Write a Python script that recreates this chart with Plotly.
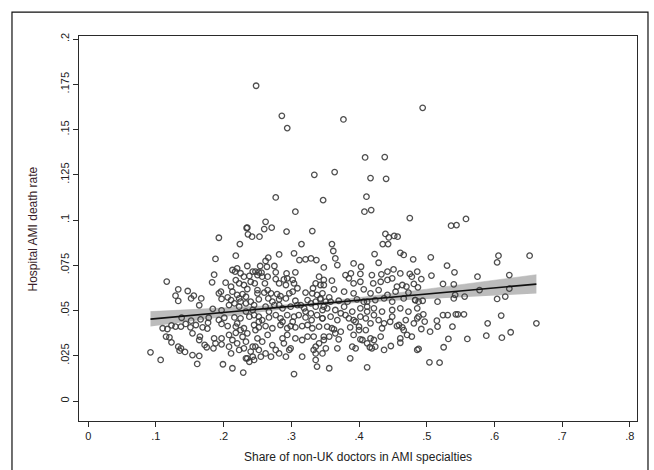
import plotly.graph_objects as go

# ---- data (share of non-UK doctors, AMI death rate) ----
share_a = [0.248,0.494,0.286,0.294,0.377,0.409,0.438,0.334,0.364,0.417,0.440,0.277,0.347,0.411,0.306,0.408,0.418,0.475,0.558,0.536,0.544,0.234,0.235,0.262,0.260,0.271,0.293,0.331,0.236,0.242,0.253,0.193,0.439,0.444,0.452,0.457,0.224,0.315,0.360,0.435,0.443]
death_a = [0.1742,0.1620,0.1576,0.1508,0.1556,0.1346,0.1348,0.1250,0.1265,0.1232,0.1228,0.1125,0.1110,0.1129,0.1046,0.1046,0.1055,0.1011,0.1006,0.0969,0.0972,0.0956,0.0958,0.0990,0.0950,0.0958,0.0936,0.0939,0.0921,0.0908,0.0908,0.0902,0.0923,0.0904,0.0912,0.0908,0.0867,0.0867,0.0867,0.0867,0.0867]

share_b = [0.218,0.282,0.304,0.266,0.262,0.312,0.321,0.329,0.337,0.235,
           0.254,0.275,0.264,0.217,0.243,0.247,0.252,0.256,0.277,0.306,
           0.293,0.230,0.238,0.250,0.257,0.265,0.277,0.289,0.294,0.302,
           0.341,0.348,0.203,0.240,0.246,0.261,0.282,0.292,0.304,0.309,
           0.336,0.343,0.332,0.230,0.235,0.250,0.213,0.228,0.250,0.260,
           0.265,0.270,0.279,0.284,0.297,0.302,0.321,0.331,0.338,0.346,
           0.206,0.211,0.223,0.233,0.240,0.252,0.266,0.282,0.292,0.306,
           0.324,0.329,0.336,0.343,0.351,0.208,0.223,0.233,0.245,0.262,
           0.275,0.287,0.299,0.309,0.319,0.336,0.346,0.216,0.225,0.245,
           0.252,0.267,0.277,0.284,0.294,0.304,0.311,0.321,0.330,0.338,
           0.346,0.206,0.220,0.230,0.245,0.252,0.262,0.272,0.284,0.299,
           0.306,0.316,0.324,0.331,0.341,0.208,0.218,0.228,0.235,0.250,
           0.265,0.287,0.294,0.306,0.333,0.341,0.348,0.208,0.220,0.230,
           0.243,0.252,0.272,0.299,0.336,0.333,0.211,0.235,0.243,0.245,
           0.255,0.270,0.282,0.292,0.316,0.336,0.346,0.213,0.338]
death_b = [0.0803,0.0810,0.0816,0.0792,0.0774,0.0779,0.0783,0.0788,0.0779,0.0746,
           0.0746,0.0746,0.0742,0.0715,0.0715,0.0715,0.0711,0.0709,0.0711,0.0711,
           0.0705,0.0687,0.0691,0.0696,0.0687,0.0687,0.0674,0.0672,0.0678,0.0669,
           0.0687,0.0669,0.0654,0.0659,0.0650,0.0650,0.0650,0.0641,0.0650,0.0623,
           0.0650,0.0641,0.0623,0.0641,0.0619,0.0613,0.0604,0.0591,0.0595,0.0599,
           0.0613,0.0595,0.0591,0.0580,0.0595,0.0604,0.0599,0.0595,0.0586,0.0595,
           0.0573,0.0558,0.0567,0.0576,0.0549,0.0562,0.0567,0.0562,0.0567,0.0554,
           0.0558,0.0540,0.0549,0.0567,0.0549,0.0530,0.0521,0.0540,0.0530,0.0521,
           0.0530,0.0512,0.0521,0.0530,0.0512,0.0521,0.0503,0.0462,0.0457,0.0475,
           0.0466,0.0462,0.0475,0.0457,0.0475,0.0466,0.0475,0.0462,0.0447,0.0475,
           0.0457,0.0414,0.0429,0.0402,0.0420,0.0407,0.0414,0.0402,0.0420,0.0414,
           0.0407,0.0414,0.0420,0.0402,0.0411,0.0365,0.0377,0.0355,0.0374,0.0346,
           0.0365,0.0346,0.0365,0.0346,0.0356,0.0319,0.0337,0.0300,0.0319,0.0291,
           0.0300,0.0282,0.0309,0.0291,0.0300,0.0282,0.0263,0.0236,0.0245,0.0227,
           0.0245,0.0245,0.0263,0.0245,0.0245,0.0263,0.0263,0.0181,0.0190]

share_b2 = [0.213,0.220,0.225,0.218,0.223,0.211,0.220,0.225,0.216,0.233,0.238,0.243,
            0.252,0.257,0.247,0.218,0.225,0.213,0.223,0.233,0.240,0.247,0.257,
            0.272,0.282,0.267,0.287,0.302,0.294,0.321,0.329,0.314,0.324,0.316,0.289,
            0.297,0.277,0.262,0.233,0.238,0.336]
death_b2 = [0.0724,0.0733,0.0706,0.0668,0.0650,0.0632,0.0586,0.0549,0.0540,0.0494,0.0466,0.0503,
            0.0438,0.0447,0.0392,0.0411,0.0392,0.0337,0.0282,0.0328,0.0273,0.0300,0.0328,
            0.0549,0.0530,0.0494,0.0438,0.0438,0.0402,0.0494,0.0484,0.0530,0.0356,0.0337,0.0319,
            0.0282,0.0282,0.0263,0.0236,0.0217,0.0227]

share_c = [0.362,0.423,0.461,0.466,0.480,0.365,0.348,0.368,0.392,0.403,
           0.429,0.451,0.442,0.461,0.475,0.478,0.486,0.380,0.388,0.402,
           0.419,0.433,0.360,0.385,0.392,0.421,0.432,0.449,0.464,0.470,
           0.481,0.348,0.363,0.378,0.392,0.407,0.417,0.429,0.442,0.454,
           0.473,0.343,0.356,0.370,0.383,0.397,0.412,0.424,0.437,0.449,
           0.466,0.483,0.353,0.365,0.378,0.390,0.402,0.412,0.422,0.434,
           0.449,0.461,0.473,0.486,0.346,0.358,0.368,0.385,0.395,0.410,
           0.417,0.429,0.446,0.459,0.469,0.481,0.488,0.353,0.363,0.373,
           0.387,0.400,0.410,0.434,0.456,0.464,0.348,0.370,0.392,0.402,
           0.417,0.422,0.432,0.461,0.478,0.351,0.368,0.390,0.395,0.405,
           0.416,0.424,0.437,0.447,0.461,0.486,0.387,0.356,0.412]
death_c = [0.0829,0.0812,0.0819,0.0807,0.0783,0.0788,0.0738,0.0751,0.0760,0.0742,
           0.0764,0.0727,0.0715,0.0705,0.0702,0.0687,0.0715,0.0696,0.0705,0.0702,
           0.0696,0.0700,0.0665,0.0678,0.0650,0.0650,0.0659,0.0678,0.0641,0.0632,
           0.0647,0.0641,0.0617,0.0604,0.0595,0.0617,0.0595,0.0613,0.0586,0.0604,
           0.0599,0.0562,0.0573,0.0554,0.0549,0.0562,0.0549,0.0558,0.0567,0.0549,
           0.0567,0.0558,0.0512,0.0503,0.0521,0.0494,0.0512,0.0494,0.0512,0.0494,
           0.0503,0.0512,0.0494,0.0512,0.0457,0.0466,0.0447,0.0457,0.0438,0.0457,
           0.0429,0.0447,0.0438,0.0420,0.0447,0.0429,0.0466,0.0411,0.0396,0.0383,
           0.0407,0.0392,0.0392,0.0402,0.0414,0.0407,0.0356,0.0341,0.0365,0.0341,
           0.0346,0.0337,0.0356,0.0346,0.0356,0.0291,0.0291,0.0300,0.0291,0.0337,
           0.0297,0.0300,0.0282,0.0304,0.0322,0.0282,0.0236,0.0181,0.0186]

share_c2 = [0.358,0.348,0.373,0.380,0.392,0.402,0.400,0.360,0.365,0.356,0.407,0.412,
            0.422,0.437,0.449,0.466,0.471,0.442,0.456,0.402,0.412,0.419]
death_c2 = [0.0549,0.0521,0.0485,0.0475,0.0447,0.0466,0.0411,0.0402,0.0374,0.0356,0.0549,0.0521,
            0.0475,0.0429,0.0466,0.0392,0.0365,0.0669,0.0632,0.0659,0.0319,0.0291]

share_d = [0.606,0.604,0.506,0.530,0.541,0.507,0.492,0.524,0.540,0.575,
           0.487,0.578,0.542,0.556,0.540,0.516,0.604,0.616,0.483,0.488,
           0.494,0.495,0.524,0.531,0.543,0.546,0.555,0.610,0.486,0.497,
           0.515,0.516,0.538,0.590,0.492,0.505,0.532,0.560,0.588,0.611,
           0.525,0.488,0.504,0.519,0.652,0.622,0.622,0.662,0.624]
death_d = [0.0803,0.0766,0.0794,0.0748,0.0711,0.0693,0.0674,0.0647,0.0645,0.0687,
           0.0628,0.0613,0.0586,0.0577,0.0567,0.0549,0.0564,0.0577,0.0558,0.0549,
           0.0554,0.0479,0.0475,0.0475,0.0479,0.0479,0.0479,0.0472,0.0457,0.0439,
           0.0444,0.0411,0.0411,0.0429,0.0398,0.0383,0.0343,0.0343,0.0361,0.0350,
           0.0297,0.0288,0.0214,0.0212,0.0803,0.0696,0.0621,0.0429,0.0380]

share_e = [0.188,0.186,0.183,0.116,0.133,0.147,0.156,0.129,0.133,0.152,
           0.167,0.164,0.196,0.193,0.197,0.184,0.197,0.138,0.152,0.144,
           0.166,0.178,0.177,0.193,0.201,0.197,0.110,0.117,0.123,0.129,
           0.137,0.115,0.120,0.123,0.154,0.165,0.164,0.172,0.175,0.133,
           0.137,0.143,0.154,0.164,0.135,0.092,0.107,0.161,0.186,0.197,
           0.188,0.197,0.199,0.229,0.151,0.159,0.169,0.176,0.185,0.304]
death_e = [0.0785,0.0698,0.0656,0.0660,0.0617,0.0608,0.0582,0.0582,0.0553,0.0567,
           0.0567,0.0529,0.0604,0.0595,0.0564,0.0509,0.0501,0.0460,0.0444,0.0426,
           0.0451,0.0460,0.0433,0.0448,0.0460,0.0426,0.0402,0.0398,0.0418,0.0411,
           0.0411,0.0356,0.0352,0.0324,0.0374,0.0356,0.0337,0.0310,0.0297,0.0300,
           0.0291,0.0271,0.0254,0.0249,0.0278,0.0269,0.0227,0.0205,0.0346,0.0346,
           0.0319,0.0313,0.0203,0.0157,0.0407,0.0420,0.0407,0.0400,0.0291,0.0149]

# fitted line and 95% CI
fit_x = [0.092,0.15,0.2,0.25,0.3,0.34,0.4,0.45,0.5,0.55,0.6,0.662]
fit_y = [0.0453,0.0473,0.0490,0.0507,0.0523,0.0537,0.0557,0.0574,0.0591,0.0608,0.0625,0.0646]
ci_lo = [0.0412,0.0441,0.0466,0.0490,0.0513,0.0529,0.0544,0.0554,0.0564,0.0573,0.0582,0.0594]
ci_hi = [0.0494,0.0505,0.0514,0.0524,0.0533,0.0545,0.0570,0.0594,0.0618,0.0643,0.0668,0.0698]

x_ticks = [0, 0.1, 0.2, 0.3, 0.4, 0.5, 0.6, 0.7, 0.8]
x_labels = ["0", ".1", ".2", ".3", ".4", ".5", ".6", ".7", ".8"]
y_ticks = [0, 0.025, 0.05, 0.075, 0.1, 0.125, 0.15, 0.175, 0.2]
y_labels = ["0", ".025", ".05", ".075", ".1", ".125", ".15", ".175", ".2"]

share = share_a + share_b + share_b2 + share_c + share_c2 + share_d + share_e
death = death_a + death_b + death_b2 + death_c + death_c2 + death_d + death_e
assert len(share) == len(death)

FONT = "Liberation Sans, Arial, sans-serif"

fig = go.Figure()
fig.add_trace(go.Scatter(x=fit_x, y=ci_lo, mode="lines", line=dict(width=0, color="#c0c0c0"),
                         showlegend=False, hoverinfo="skip"))
fig.add_trace(go.Scatter(x=fit_x, y=ci_hi, mode="lines", line=dict(width=0.5, color="#b0b0b0"),
                         fill="tonexty", fillcolor="rgba(165,165,165,0.75)",
                         showlegend=False, hoverinfo="skip"))
fig.add_trace(go.Scatter(x=share, y=death, mode="markers",
                         marker=dict(symbol="circle-open", size=5.5,
                                     color="rgba(60,60,60,0.9)", line=dict(width=1.3)),
                         showlegend=False))
fig.add_trace(go.Scatter(x=fit_x, y=fit_y, mode="lines", line=dict(color="#111111", width=1.7),
                         showlegend=False))

axis_common = dict(showgrid=False, zeroline=False, showline=True, mirror=True,
                   linecolor="#2a2a2a", linewidth=1.2, ticks="outside", ticklen=5,
                   tickcolor="#2a2a2a", tickwidth=1,
                   tickfont=dict(family=FONT, size=11, color="#222222"))

fig.update_xaxes(range=[-0.0136, 0.8106], tickvals=x_ticks, ticktext=x_labels, **axis_common)
fig.update_yaxes(range=[-0.01105, 0.2017], tickvals=y_ticks, ticktext=y_labels,
                 tickangle=-90, **axis_common)

fig.update_layout(
    width=654, height=470,
    margin=dict(l=79, r=17, t=36, b=49),
    plot_bgcolor="white", paper_bgcolor="white",
    font=dict(family=FONT, size=11, color="#222222"),
    shapes=[dict(type="rect", xref="paper", yref="paper",
                 x0=-0.1201, x1=1.0197, y0=-0.20, y1=1.0622,
                 line=dict(color="#111111", width=1.2), fillcolor="rgba(0,0,0,0)",
                 layer="below")],
    annotations=[
        dict(text="Hospital AMI death rate", xref="paper", yref="paper",
             x=-0.0825, y=0.5, textangle=-90, showarrow=False,
             font=dict(family=FONT, size=12, color="#3a1e2a"),
             xanchor="center", yanchor="middle"),
        dict(text="Share of non-UK doctors in AMI specialties", xref="paper", yref="paper",
             x=0.5, y=-0.094, showarrow=False,
             font=dict(family=FONT, size=12, color="#222222"),
             xanchor="center", yanchor="middle"),
    ],
)

fig.write_html("out.html")
